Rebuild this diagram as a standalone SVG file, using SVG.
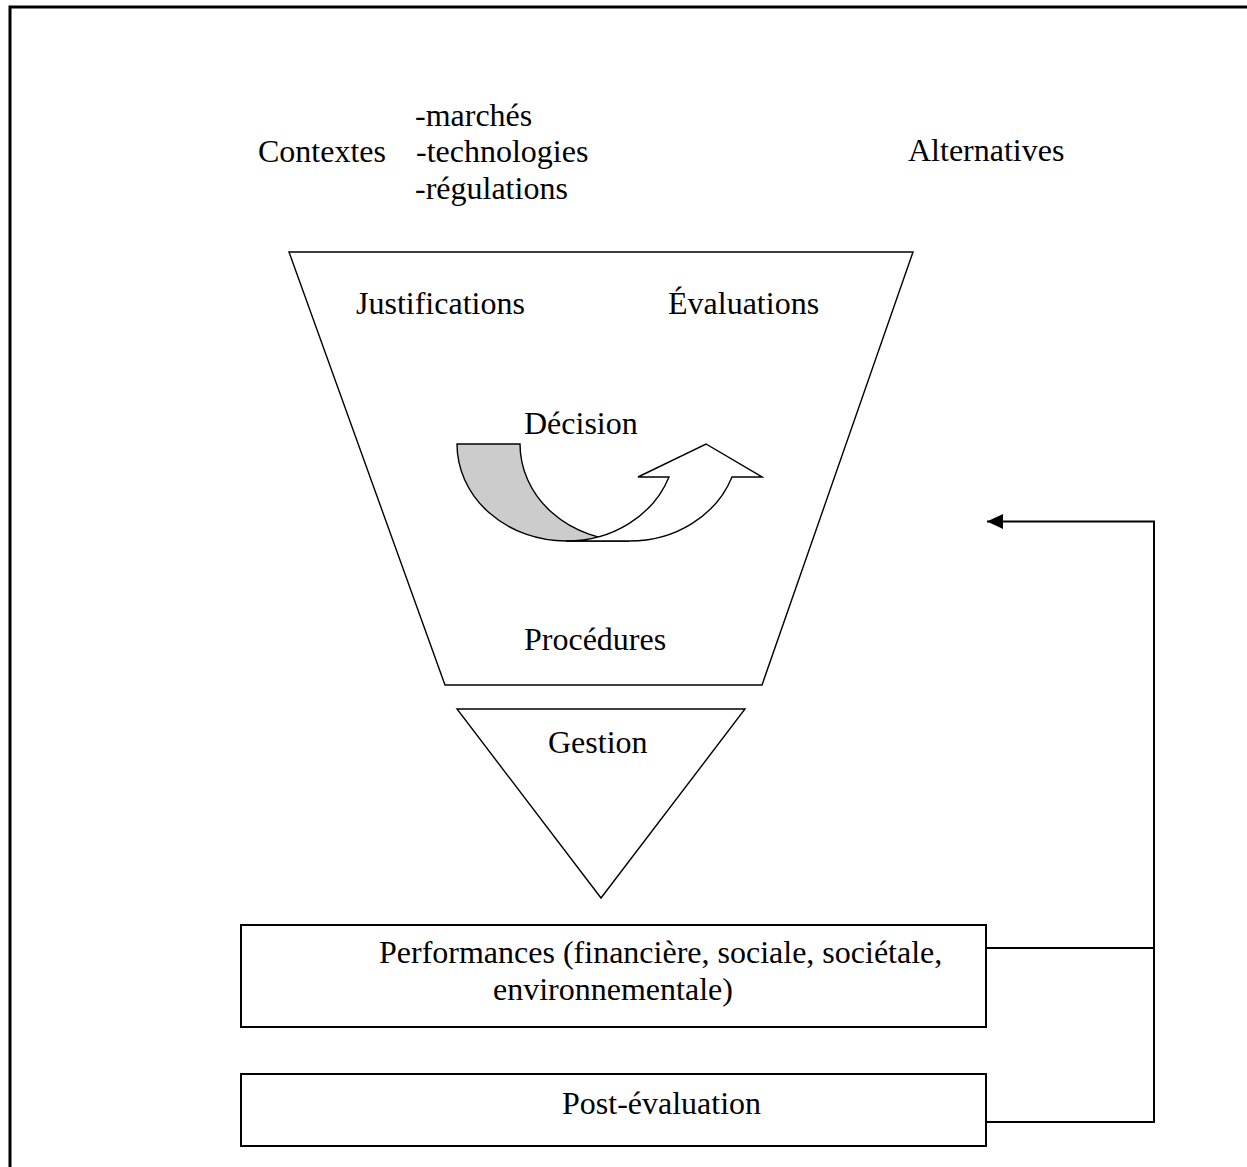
<svg xmlns="http://www.w3.org/2000/svg" width="1247" height="1167" viewBox="0 0 1247 1167">
<style>
text{font-family:"Liberation Serif","Times New Roman",serif;font-size:32px;fill:#000}
.shape{fill:#fff;stroke:#000;stroke-width:1.4}
.box{fill:#fff;stroke:#000;stroke-width:2}
.conn{fill:none;stroke:#000;stroke-width:2}
.frame{fill:none;stroke:#000;stroke-width:3}
</style>
<defs>
<marker id="ah" markerUnits="userSpaceOnUse" markerWidth="18" markerHeight="16" refX="16" refY="8" orient="auto">
<path d="M0,0.5 L16,8 L0,15.5 Z" fill="#000"/>
</marker>
</defs>
<rect width="1247" height="1167" fill="#fff"/>
<g id="frame"><path class="frame" d="M10,1167 V7 H1247"/></g>
<g id="contextes">
<text x="258" y="162">Contextes</text>
<text x="415" y="126">-marchés</text>
<text x="416" y="162">-technologies</text>
<text x="415" y="199">-régulations</text>
</g>
<g id="alternatives"><text x="908" y="161">Alternatives</text></g>
<g id="funnel">
<polygon class="shape" points="289,252 913,252 762,685 445,685"/>
<text x="356" y="314">Justifications</text>
<text x="668" y="314">Évaluations</text>
<text x="524" y="434">Décision</text>
<text x="524" y="650">Procédures</text>
</g>
<g id="decision-arrow">
<path d="M457,444 L520,444 A109,97 0 0 0 629,541 L566,541 A109,97 0 0 1 457,444 Z" fill="#cccccc" stroke="#000" stroke-width="1.4"/>
<path d="M566,541 A109,97 0 0 0 669,477 L638,477 L706,444 L762,477 L732,477 A109,97 0 0 1 629,541 Z" fill="#fff" stroke="#000" stroke-width="1.4"/>
</g>
<g id="gestion">
<polygon class="shape" points="457,709 745,709 601,898"/>
<text x="548" y="753">Gestion</text>
</g>
<g id="performances">
<rect class="box" x="241" y="925" width="745" height="102"/>
<text x="379" y="963">Performances (financière, sociale, sociétale,</text>
<text x="493" y="1000">environnementale)</text>
</g>
<g id="post-evaluation">
<rect class="box" x="241" y="1074" width="745" height="72"/>
<text x="562" y="1114">Post-évaluation</text>
</g>
<g id="connectors">
<path class="conn" d="M986,948 H1154"/>
<path class="conn" d="M986,1122 H1154 V521.5 H987" marker-end="url(#ah)"/>
</g>
</svg>
